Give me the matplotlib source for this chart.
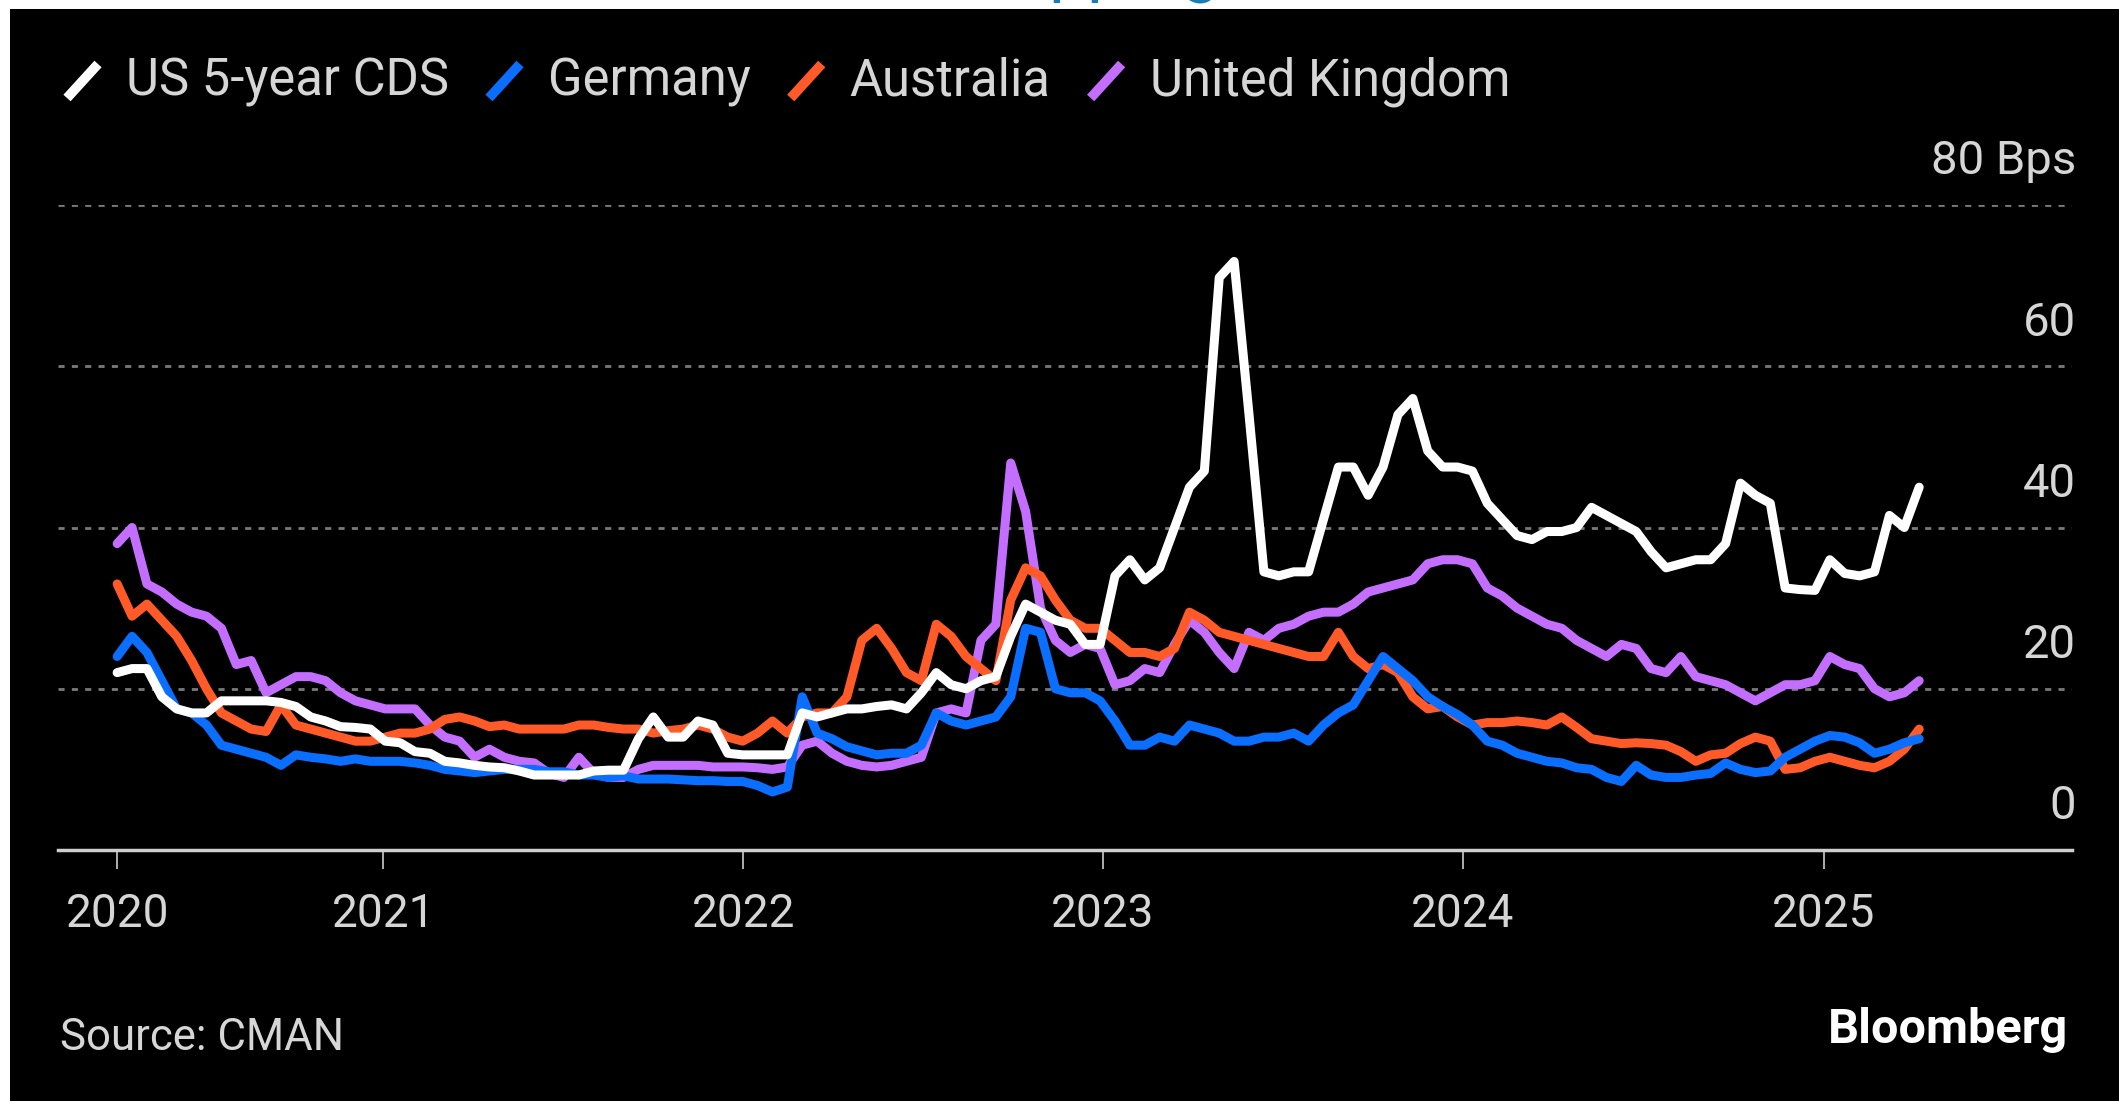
import matplotlib
matplotlib.use("Agg")
import matplotlib.pyplot as plt
from matplotlib.lines import Line2D
from matplotlib.patches import Rectangle
import pandas as pd

W, H = 2119, 1101

# semi-monthly readings, Apr 2020 -> Apr 2025 (bps)
dates = pd.date_range("2020-04-06", "2025-04-08", periods=122)

us_cds = [
    22, 22.5, 22.5, 19, 17.5, 17, 17, 18.5, 18.5, 18.5,
    18.5, 18.3, 17.8, 16.5, 16, 15.3, 15.2, 15, 13.5, 13.3,
    12.2, 12, 11, 10.8, 10.5, 10.3, 10.2, 9.8, 9.3, 9.3,
    9.3, 9.3, 9.8, 9.9, 9.9, 13.8, 16.5, 14, 14, 16,
    15.5, 12, 11.8, 11.8, 11.8, 11.8, 17, 16.5, 17, 17.5,
    17.5, 17.8, 18, 17.5, 19.5, 22, 20.5, 20, 21, 21.5,
    26.5, 30.5, 29.5, 28.5, 28, 25.5, 25.5, 34, 36, 33.5,
    35, 40, 45, 47, 71, 73, 54, 34.5, 34, 34.5,
    34.5, 41, 47.5, 47.5, 44, 47.5, 54, 56, 49.5, 47.5,
    47.5, 47, 43, 41, 39, 38.5, 39.5, 39.5, 40, 42.5,
    41.5, 40.5, 39.5, 37, 35, 35.5, 36, 36, 38, 45.5,
    44, 43, 32.5, 32.3, 32.2, 36, 34.3, 34, 34.5, 41.5,
    40, 45,
]

germany = [
    24, 26.5, 24.5, 21, 17.5, 17, 15.5, 13, 12.5, 12,
    11.5, 10.5, 11.8, 11.5, 11.3, 11, 11.3, 11, 11, 11,
    10.8, 10.5, 10, 9.8, 9.6, 9.8, 10, 10, 10, 9.7,
    9.7, 9.3, 9.3, 9, 9.2, 8.8, 8.8, 8.8, 8.7, 8.6,
    8.6, 8.5, 8.5, 8, 7.2, 7.8, 19, 14.5, 13.8, 12.8,
    12.3, 11.8, 12, 12, 13, 17, 16, 15.5, 16, 16.5,
    19, 27.5, 27, 20, 19.5, 19.5, 18.5, 16, 13, 13,
    14, 13.5, 15.5, 15, 14.5, 13.5, 13.5, 14, 14, 14.5,
    13.5, 15.5, 17, 18, 21, 24, 22.5, 21, 19, 17.8,
    16.8, 15.5, 13.5, 13, 12, 11.5, 11, 10.8, 10.2, 10,
    9, 8.5, 10.5, 9.3, 9, 9, 9.3, 9.5, 10.8, 10,
    9.6, 9.8, 11.5, 12.5, 13.5, 14.2, 14, 13.3, 12, 12.5,
    13.3, 13.8,
]

australia = [
    33, 29, 30.5, 28.5, 26.5, 23.5, 20, 17, 16, 15,
    14.7, 18, 15.5, 15, 14.5, 14, 13.5, 13.5, 14, 14.5,
    14.5, 15, 16.2, 16.5, 16, 15.3, 15.5, 15, 15, 15,
    15, 15.5, 15.5, 15.2, 15, 15, 14.5, 14.8, 15, 15.5,
    15, 14, 13.5, 14.5, 16, 14.5, 16.5, 17, 17, 19,
    26, 27.5, 25, 22, 21, 28, 26.5, 24, 22.5, 21,
    31, 35, 34, 31, 28.5, 27.5, 27.5, 26, 24.5, 24.5,
    24, 25, 29.5, 28.5, 27, 26.5, 26, 25.5, 25, 24.5,
    24, 24, 27, 24, 22.5, 23, 22, 19, 17.5, 17.8,
    16.5, 15.5, 15.8, 15.8, 16, 15.8, 15.5, 16.5, 15.2, 13.8,
    13.5, 13.2, 13.3, 13.2, 13, 12.2, 11, 11.8, 12, 13.2,
    14, 13.5, 10, 10.2, 11, 11.5, 11, 10.5, 10.2, 11,
    12.5, 15,
]

uk = [
    38, 40, 33, 32, 30.5, 29.5, 29, 27.5, 23, 23.5,
    19.5, 20.5, 21.5, 21.5, 21, 19.5, 18.5, 18, 17.5, 17.5,
    17.5, 15.5, 14, 13.5, 11.5, 12.5, 11.5, 11, 10.8, 9.5,
    9, 11.5, 9.5, 9, 9, 10, 10.5, 10.5, 10.5, 10.5,
    10.3, 10.3, 10.3, 10.2, 10, 10.3, 13, 13.5, 12, 11,
    10.5, 10.3, 10.5, 11, 11.5, 17, 17.5, 17, 26, 28,
    48, 42, 30, 26, 24.5, 25.5, 25, 20.5, 21, 22.5,
    22, 25.5, 28.5, 27, 24.5, 22.5, 27, 26, 27.5, 28,
    29, 29.5, 29.5, 30.5, 32, 32.5, 33, 33.5, 35.5, 36,
    36, 35.5, 32.5, 31.5, 30, 29, 28, 27.5, 26, 25,
    24, 25.5, 25, 22.5, 22, 24, 21.5, 21, 20.5, 19.5,
    18.5, 19.5, 20.5, 20.5, 21, 24, 23, 22.5, 20, 19,
    19.5, 21,
]

series_names = ["US 5-year CDS", "Germany", "Australia", "United Kingdom"]
series_vals = [us_cds, germany, australia, uk]
colors = ["#ffffff", "#0a6eff", "#ff5a28", "#c36eff"]
y_ticks = [0, 20, 40, 60, 80]
year_ticks = [dates[0]] + [pd.Timestamp(f"{y}-01-01") for y in range(2021, 2026)]
year_labels = ["2020", "2021", "2022", "2023", "2024", "2025"]

plt.rcParams["font.family"] = ["Roboto", "DejaVu Sans"]
txt_col = "#d6d6d6"

fig = plt.figure(figsize=(W / 100, H / 100), dpi=100, facecolor="white")
fig.add_artist(Rectangle((10 / W, 0), 1 - 10 / W, 1 - 9 / H, transform=fig.transFigure,
                         facecolor="black", edgecolor="none", zorder=-10))
# clipped headline fragment peeking in at the very top
fig.text(1048 / W, 1 + 11 / H, "pping", color="#1b7db3", fontsize=50, va="baseline", zorder=-20)

ax = fig.add_axes([58 / W, (H - 850) / H, 2014 / W, 645 / H])
ax.patch.set_visible(False)

zs = [5, 4, 3, 2]
for vals, col, z in zip(series_vals, colors, zs):
    ax.plot(dates, vals, color=col, lw=6.5, solid_joinstyle="round", solid_capstyle="round", zorder=z)

ax.set_xlim(pd.Timestamp("2020-02-06"), pd.Timestamp("2025-09-10"))
ax.set_ylim(0, 80)

for v in y_ticks[1:]:
    ax.axhline(v, color="#7a7a7a", lw=2, ls=(0, (2.2, 2.6)), zorder=1)

for s in ["top", "left", "right"]:
    ax.spines[s].set_visible(False)
ax.spines["bottom"].set_color("#cfcfcf")
ax.spines["bottom"].set_linewidth(2.5)

ax.set_yticks([])
ax.set_xticks(year_ticks)
ax.set_xticklabels(year_labels)
ax.tick_params(axis="x", length=14, width=1.3, color="#bdbdbd", pad=16,
               labelsize=33, labelcolor=txt_col)

for v in y_ticks:
    label = f"{v} Bps" if v == y_ticks[-1] else str(v)
    ax.annotate(label, xy=(1, v), xycoords=("axes fraction", "data"), xytext=(3, 22),
                textcoords="offset points", ha="right", va="baseline", fontsize=34,
                color=txt_col, annotation_clip=False)

# legend with slash markers
renderer = fig.canvas.get_renderer()
x = 60
for name, col in zip(series_names, colors):
    fig.add_artist(Line2D([(x + 7) / W, (x + 38) / W], [1 - 98 / H, 1 - 64 / H],
                          color=col, lw=7, solid_capstyle="butt"))
    t = fig.text((x + 66) / W, 1 - 95 / H, name, fontsize=36.5, color=txt_col, va="baseline")
    bb = t.get_window_extent(renderer)
    x = bb.x1 + 33

fig.text(60 / W, (H - 1050) / H, "Source: CMAN", fontsize=31.5, color=txt_col, va="baseline")
fig.text(2068 / W, (H - 1043) / H, "Bloomberg", fontsize=35, color="white",
         fontweight="bold", ha="right", va="baseline")

fig.savefig("out.png", dpi=100, facecolor=fig.get_facecolor())
